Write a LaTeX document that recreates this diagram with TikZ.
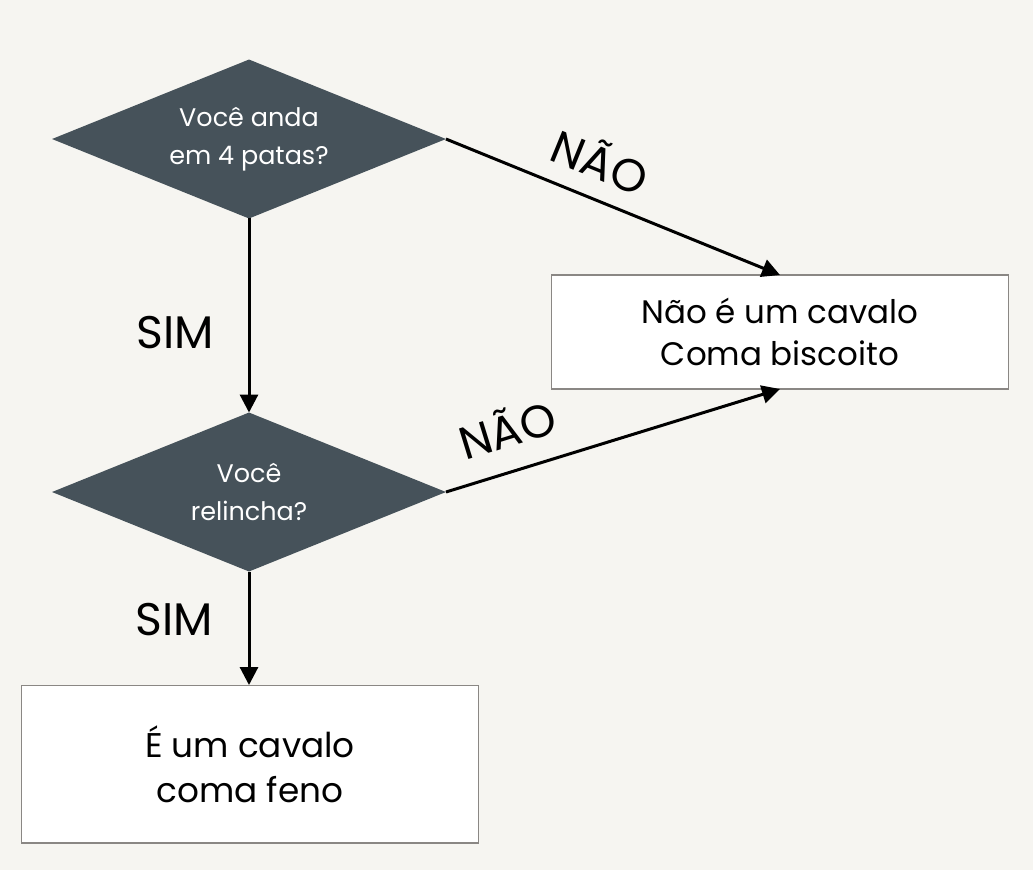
\documentclass[tikz,border=0pt]{standalone}
\usepackage{fontspec}
\setmainfont{Poppins}
\usepackage{xcolor}
\usetikzlibrary{shapes,arrows.meta,positioning}

\definecolor{fundo}{HTML}{F6F5F1}
\definecolor{losango}{HTML}{46525A}
\definecolor{borda}{HTML}{8A8784}

\begin{document}
\begin{tikzpicture}[
    x=0.02cm,
    y=-0.02cm,
    pergunta/.style={
        diamond,
        aspect=2.47,
        fill=losango,
        text=white,
        inner sep=0pt,
        outer sep=0pt,
        minimum width=7.88cm,
        minimum height=3.18cm,
        align=center,
        font=\fontsize{14.5}{21.5}\selectfont
    },
    resposta/.style={
        rectangle,
        draw=borda,
        line width=0.6pt,
        fill=white,
        outer sep=0pt,
        minimum width=9.14cm,
        align=center
    },
    seta/.style={
        -{Triangle[length=3.6mm,width=3.6mm]},
        line width=0.6mm
    },
    rotulo/.style={
        font=\fontsize{26}{30}\selectfont
    }
]

    % fundo
    \fill[fundo] (0,0) rectangle (1033,870);

    % perguntas
    \node[pergunta] (quatro) at (249,139) {Você anda\\em 4 patas?};
    \node[pergunta] (relincha) at (249,492) {Você\\relincha?};

    % respostas
    \node[
        resposta,
        minimum height=2.28cm,
        font=\fontsize{18.5}{23.8}\selectfont
    ] (naocavalo) at (780,332) {Não é um cavalo\\Coma biscoito};

    \node[
        resposta,
        minimum height=3.16cm,
        font=\fontsize{19.5}{25.5}\selectfont
    ] (cavalo) at (250,764) {É um cavalo\\coma feno};

    % setas
    \draw[seta] (quatro.south) --
        node[rotulo, pos=0.59, xshift=-1.48cm] (sim1) {SIM}
        (relincha.north);

    \draw[seta] (quatro.east) --
        node[rotulo, sloped, pos=0.42, yshift=0.78cm] (nao1) {NÃO}
        (naocavalo.north);

    \draw[seta] (relincha.east) --
        node[rotulo, sloped, pos=0.22, yshift=0.87cm] (nao2) {NÃO}
        (naocavalo.south);

    \draw[seta] (relincha.south) --
        node[rotulo, pos=0.42, xshift=-1.5cm] (sim2) {SIM}
        (relincha.south |- cavalo.north);

\end{tikzpicture}
\end{document}
